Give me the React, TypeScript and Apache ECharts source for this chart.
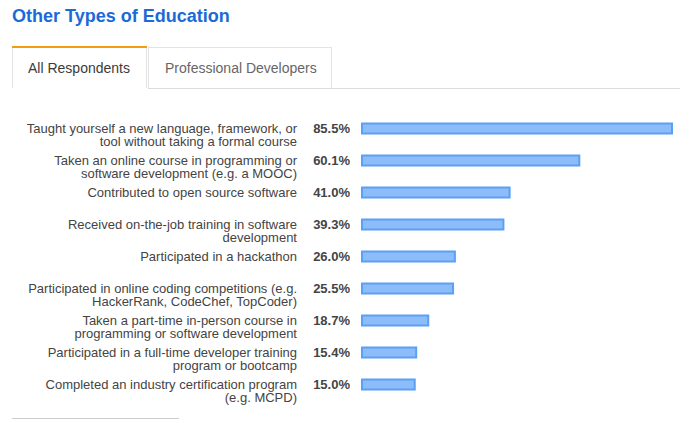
import React, { useEffect, useRef } from "react";
import * as echarts from "echarts";

const categories: string[] = [
  "Taught yourself a new language, framework, or\ntool without taking a formal course",
  "Taken an online course in programming or\nsoftware development (e.g. a MOOC)",
  "Contributed to open source software",
  "Received on-the-job training in software\ndevelopment",
  "Participated in a hackathon",
  "Participated in online coding competitions (e.g.\nHackerRank, CodeChef, TopCoder)",
  "Taken a part-time in-person course in\nprogramming or software development",
  "Participated in a full-time developer training\nprogram or bootcamp",
  "Completed an industry certification program\n(e.g. MCPD)",
];

const values: number[] = [85.5, 60.1, 41.0, 39.3, 26.0, 25.5, 18.7, 15.4, 15.0];

const titleText = "Other Types of Education";
const tabLabels: string[] = ["All Respondents", "Professional Developers"];

const FONT = "'Liberation Sans', Arial, Helvetica, sans-serif";

export default function App() {
  const ref = useRef<HTMLDivElement>(null);
  useEffect(() => {
    if (!ref.current) return;
    const chart = echarts.init(ref.current, undefined, { renderer: "svg" });
    const lineColor = "#e3e3e3";
    chart.setOption({
      animation: false,
      backgroundColor: "#ffffff",
      textStyle: { fontFamily: FONT },
      grid: { left: 361, right: 26, top: 112.5, bottom: 22.5, containLabel: false },
      xAxis: {
        type: "value",
        min: 0,
        max: 85.5,
        show: false,
      },
      yAxis: {
        type: "category",
        inverse: true,
        data: categories,
        axisLine: { show: false },
        axisTick: { show: false },
        splitLine: { show: false },
        axisLabel: {
          interval: 0,
          margin: 64,
          color: "#444",
          fontSize: 13,
          fontFamily: FONT,
          lineHeight: 13,
          align: "right",
          verticalAlign: "top",
          padding: [-6.5, 0, 0, 0],
        },
      },
      series: [
        {
          type: "bar",
          data: values,
          barWidth: 12,
          itemStyle: { color: "#8cbdfa", borderColor: "#5aa0f5", borderWidth: 2 },
          label: {
            show: true,
            position: "left",
            distance: 11,
            formatter: (p: any) => Number(p.value).toFixed(1) + "%",
            color: "#444",
            fontWeight: "bold",
            fontSize: 13,
            fontFamily: FONT,
          },
        },
      ],
      graphic: [
        {
          type: "text",
          x: 12,
          y: 16,
          style: { text: titleText, fill: "#1a6ad8", font: `bold 18px ${FONT}`, verticalAlign: "middle" },
        },
        // Tab 1 (active)
        { type: "line", shape: { x1: 12.5, y1: 46, x2: 12.5, y2: 88 }, style: { stroke: lineColor, lineWidth: 1 } },
        { type: "line", shape: { x1: 146.5, y1: 46, x2: 146.5, y2: 88 }, style: { stroke: lineColor, lineWidth: 1 } },
        { type: "line", shape: { x1: 12, y1: 47, x2: 147, y2: 47 }, style: { stroke: "#f49b0f", lineWidth: 2 } },
        {
          type: "text",
          x: 28,
          y: 68,
          style: { text: tabLabels[0], fill: "#3b3b3b", font: `14px ${FONT}`, verticalAlign: "middle" },
        },
        // Tab 2
        { type: "line", shape: { x1: 148.5, y1: 47, x2: 148.5, y2: 88 }, style: { stroke: lineColor, lineWidth: 1 } },
        { type: "line", shape: { x1: 148.5, y1: 47.5, x2: 331.5, y2: 47.5 }, style: { stroke: lineColor, lineWidth: 1 } },
        { type: "line", shape: { x1: 331.5, y1: 47, x2: 331.5, y2: 88 }, style: { stroke: lineColor, lineWidth: 1 } },
        {
          type: "text",
          x: 165,
          y: 68,
          style: { text: tabLabels[1], fill: "#666", font: `14px ${FONT}`, verticalAlign: "middle" },
        },
        // Baseline under tabs
        { type: "line", shape: { x1: 148, y1: 88.5, x2: 680, y2: 88.5 }, style: { stroke: "#dcdcdc", lineWidth: 1 } },
        // Bottom divider
        { type: "line", shape: { x1: 12, y1: 418.5, x2: 179, y2: 418.5 }, style: { stroke: "#cccccc", lineWidth: 1 } },
      ],
    });
    return () => chart.dispose();
  }, []);
  return (
    <div
      ref={ref}
      style={{ position: "fixed", left: 0, top: 0, width: 699, height: 423, background: "#fff" }}
    />
  );
}
